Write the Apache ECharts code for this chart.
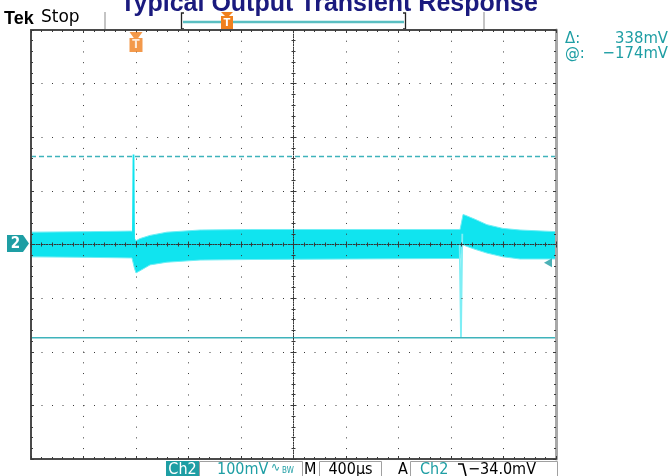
<!DOCTYPE html>
<html>
<head>
<meta charset="utf-8">
<script src="https://cdn.jsdelivr.net/npm/echarts@6/dist/echarts.min.js"></script>
<style>
  html, body { margin: 0; padding: 0; background: #fff; }
  #scope { width: 670px; height: 476px; }
</style>
</head>
<body>
<div id="scope"></div>
<script>
// ---- Acquisition settings ----
const timeRange = [-800, 3200];      // µs, 400 µs/div, trigger 2 div from left
const timeStep = 400;
const levelRange = [-400, 400];      // mV, 100 mV/div, Ch2 ground at centre
const levelStep = 100;

// ---- Ch2 trace: envelope of the noise band (µs, mV) ----
const bandTime   = [-800, -350, -46, -31, -11,   0,  30, 107, 236, 488, 869, 1630, 2461, 2469, 2492, 2514, 2583, 2674, 2796, 2926, 3200];
const bandTop    = [  23,   24,  25,  25,  11,   7,  11,  17,  23,  27,  28,   28,   28,   28,   56,   54,   47,   37,   30,   27,   24];
const bandBottom = [ -23,  -24, -25, -25, -45, -53, -49, -38, -33, -29, -28,  -27,  -26,  -26,    0,   -3,   -9,  -16,  -23,  -27,  -27];

// ---- Load-step spikes ----
const spike1Time  = [-24, -19, -14];
const spike1Level = [0, 168, -30];
const spike2Time  = [2466, 2476, 2486];
const spike2Level = [0, -174, 20];

// ---- Cursors and trigger ----
const cursorDelta = 338;             // mV
const cursorAt = -174;               // mV
const triggerLevel = -34;            // mV
const triggerTime = 0;               // µs

const TRACE = '#10e4ef';
const TEAL = '#1e9ea4';
const CURSOR = '#3fb3bb';
const ORANGE = '#f0801e';
const FONT = '"DejaVu Sans Condensed", "Liberation Sans Narrow", "DejaVu Sans", sans-serif';

const pairs = (xs, ys) => xs.map((x, i) => [x, ys[i]]);
const bandRows = bandTime.map((t, i) => [t, bandTop[i], bandBottom[i]]);
const upperCursor = cursorAt + cursorDelta;

const chart = echarts.init(document.getElementById('scope'), null, { renderer: 'canvas' });

const gridRect = { left: 31, top: 30, width: 525, height: 429 };

// graticule axes (grid 1, measured in divisions)
const dotX = [1, 9.5];   // dot pitch along horizontal lines
const dotY = [1, 9.72];  // dot pitch along vertical lines
const tickStyle = { color: '#3a3a3a', width: 1 };
function gx(extra) {
  return Object.assign({
    type: 'value', gridIndex: 1, min: -5, max: 5, interval: 1, z: 10,
    axisLabel: { show: false }, splitLine: { show: false },
    axisTick: { show: true, inside: true, length: 3, lineStyle: tickStyle },
    minorTick: { show: true, splitNumber: 5, length: 2, lineStyle: tickStyle }
  }, extra);
}
function gy(extra) {
  return Object.assign({
    type: 'value', gridIndex: 1, min: -4, max: 4, interval: 1, z: 10,
    axisLabel: { show: false }, splitLine: { show: false },
    axisTick: { show: true, inside: true, length: 3, lineStyle: tickStyle },
    minorTick: { show: true, splitNumber: 5, length: 2, lineStyle: tickStyle }
  }, extra);
}
const centreLine = { onZero: true, lineStyle: { color: '#333', width: 1, type: [1, 1.6] } };

const option = {
  animation: false,
  backgroundColor: '#ffffff',
  grid: [
    Object.assign({ show: false }, gridRect),
    Object.assign({ show: false }, gridRect)
  ],
  xAxis: [
    { type: 'value', gridIndex: 0, min: timeRange[0], max: timeRange[1], interval: timeStep, show: false },
    gx({ position: 'bottom', axisLine: { onZero: false, lineStyle: { color: '#4a4a4a', width: 2 } },
         splitLine: { show: true, lineStyle: { color: '#3a3a3a', width: 1, type: dotY } } }),
    gx({ position: 'top', axisLine: { onZero: false, lineStyle: { color: '#4a4a4a', width: 2 } } }),
    gx({ position: 'bottom', axisLine: centreLine }),
    gx({ position: 'top', axisLine: centreLine })
  ],
  yAxis: [
    { type: 'value', gridIndex: 0, min: levelRange[0], max: levelRange[1], interval: levelStep, show: false },
    gy({ position: 'left', axisLine: { onZero: false, lineStyle: { color: '#4a4a4a', width: 2 } },
         splitLine: { show: true, lineStyle: { color: '#3a3a3a', width: 1, type: dotX } } }),
    gy({ position: 'right', axisLine: { onZero: false, lineStyle: { color: '#a8a8a8', width: 3 } } }),
    gy({ position: 'left', axisLine: centreLine }),
    gy({ position: 'right', axisLine: centreLine })
  ],
  series: [
    {
      // noise band of Ch2 drawn as one polygon between its upper and lower envelope
      name: 'Ch2', type: 'custom', xAxisIndex: 0, yAxisIndex: 0, silent: true, z: 2,
      data: bandRows,
      encode: { x: 0, y: [1, 2] },
      renderItem: function (params, api) {
        if (params.dataIndex !== 0) return null;
        const upper = bandRows.map(r => api.coord([r[0], r[1]]));
        const lower = bandRows.map(r => api.coord([r[0], r[2]])).reverse();
        return { type: 'polygon', shape: { points: upper.concat(lower) },
                 style: { fill: TRACE, stroke: '#6feef5', lineWidth: 1 } };
      }
    },
    {
      name: 'spike-1', type: 'line', xAxisIndex: 0, yAxisIndex: 0, symbol: 'none', silent: true, z: 3,
      lineStyle: { color: TRACE, width: 1.8 },
      data: pairs(spike1Time, spike1Level)
    },
    {
      name: 'spike-2', type: 'line', xAxisIndex: 0, yAxisIndex: 0, symbol: 'none', silent: true, z: 3,
      lineStyle: { color: '#7eeef5', width: 1.8 },
      data: pairs(spike2Time, spike2Level)
    },
    {
      name: 'cursor-upper', type: 'line', xAxisIndex: 0, yAxisIndex: 0, symbol: 'none', silent: true, z: 4,
      lineStyle: { color: CURSOR, width: 1.5, type: [5, 3] },
      data: pairs(timeRange, [upperCursor, upperCursor])
    },
    {
      name: 'cursor-at', type: 'line', xAxisIndex: 0, yAxisIndex: 0, symbol: 'none', silent: true, z: 4,
      lineStyle: { color: CURSOR, width: 1.5 },
      data: pairs(timeRange, [cursorAt, cursorAt])
    },
    {
      name: 'trigger-level', type: 'scatter', xAxisIndex: 0, yAxisIndex: 0, silent: true, z: 12,
      symbol: 'triangle', symbolRotate: 90, symbolSize: [9, 8], symbolOffset: [-8, 0],
      itemStyle: { color: TEAL },
      data: [[timeRange[1], triggerLevel]]
    },
    {
      name: 'trigger-pos', type: 'scatter', xAxisIndex: 0, yAxisIndex: 0, silent: true, z: 12,
      symbol: 'path://M0,0 L12,0 L8,5 L12,5 L12,17 L0,17 L0,5 L4,5 Z',
      symbolSize: [13, 20], symbolOffset: [0, 12],
      itemStyle: { color: ORANGE },
      label: { show: true, position: 'inside', offset: [0, 3], formatter: 'T', color: '#fff',
               fontFamily: FONT, fontWeight: 'bold', fontSize: 12 },
      data: [[triggerTime, levelRange[1]]]
    }
  ],
  graphic: [
    // title
    { type: 'text', x: 329, y: 17, style: { text: 'Typical Output Transient Response', fill: '#1a1a7e',
      font: 'bold 25px "Liberation Sans", Arial, sans-serif', textAlign: 'center', textVerticalAlign: 'bottom' } },
    // status bar
    { type: 'text', x: 4, y: 19, style: { text: 'Tek', fill: '#000', font: 'bold 18px "Liberation Sans", Arial, sans-serif', textVerticalAlign: 'middle' } },
    { type: 'text', x: 41, y: 18, style: { text: 'Stop', fill: '#000', font: '17px "DejaVu Sans", sans-serif', textVerticalAlign: 'middle' } },
    { type: 'line', shape: { x1: 105, y1: 12, x2: 105, y2: 30 }, style: { stroke: '#b0b0b0', lineWidth: 1.5 } },
    { type: 'line', shape: { x1: 484, y1: 12, x2: 484, y2: 30 }, style: { stroke: '#b0b0b0', lineWidth: 1.5 } },
    { type: 'polyline', shape: { points: [[184, 13], [181.5, 13], [181.5, 29], [184, 29]] }, style: { stroke: '#222', lineWidth: 1.3, fill: null } },
    { type: 'polyline', shape: { points: [[403, 13], [405.5, 13], [405.5, 29], [403, 29]] }, style: { stroke: '#222', lineWidth: 1.3, fill: null } },
    { type: 'line', shape: { x1: 183, y1: 22, x2: 404, y2: 22 }, style: { stroke: '#5bbfc2', lineWidth: 2.5 } },
    { type: 'polygon', shape: { points: [[221, 12], [233, 12], [229, 16], [233, 16], [233, 29], [221, 29], [221, 16], [225, 16]] }, style: { fill: ORANGE } },
    { type: 'text', x: 227, y: 23, style: { text: 'T', fill: '#fff', font: 'bold 11px ' + FONT, textAlign: 'center', textVerticalAlign: 'middle' } },
    // Ch2 ground marker
    { type: 'polygon', shape: { points: [[7, 235], [23, 235], [29, 243.5], [23, 252], [7, 252]] }, style: { fill: TEAL } },
    { type: 'text', x: 15.5, y: 244, style: { text: '2', fill: '#fff', font: 'bold 15px ' + FONT, textAlign: 'center', textVerticalAlign: 'middle' } },
    // cursor readout
    { type: 'text', x: 565, y: 39, style: { text: '\u0394:', fill: TEAL, font: '16.5px ' + FONT, textVerticalAlign: 'middle' } },
    { type: 'text', x: 668, y: 39, style: { text: cursorDelta + 'mV', fill: TEAL, font: '16.5px ' + FONT, textAlign: 'right', textVerticalAlign: 'middle' } },
    { type: 'text', x: 565, y: 54, style: { text: '@:', fill: TEAL, font: '16.5px ' + FONT, textVerticalAlign: 'middle' } },
    { type: 'text', x: 668, y: 54, style: { text: '\u2212' + Math.abs(cursorAt) + 'mV', fill: TEAL, font: '16.5px ' + FONT, textAlign: 'right', textVerticalAlign: 'middle' } },
    // bottom settings bar
    { type: 'rect', shape: { x: 166, y: 461, width: 33, height: 17 }, style: { fill: TEAL } },
    { type: 'text', x: 182.5, y: 469.5, style: { text: 'Ch2', fill: '#fff', font: '16px ' + FONT, textAlign: 'center', textVerticalAlign: 'middle' } },
    { type: 'rect', shape: { x: 199.5, y: 461.5, width: 103, height: 17 }, style: { fill: null, stroke: '#a0a0a0', lineWidth: 1 } },
    { type: 'text', x: 217, y: 469.5, style: { text: '100mV', fill: TEAL, font: '16px ' + FONT, textVerticalAlign: 'middle' } },
    { type: 'text', x: 271, y: 468, style: { text: '\u223f', fill: TEAL, font: '12px ' + FONT, textVerticalAlign: 'middle' } },
    { type: 'text', x: 282, y: 471, style: { text: 'BW', fill: TEAL, font: '8px ' + FONT, textVerticalAlign: 'middle' } },
    { type: 'text', x: 304, y: 469.5, style: { text: 'M', fill: '#000', font: '16px ' + FONT, textVerticalAlign: 'middle' } },
    { type: 'rect', shape: { x: 319.5, y: 461.5, width: 62, height: 17 }, style: { fill: null, stroke: '#a0a0a0', lineWidth: 1 } },
    { type: 'text', x: 350.5, y: 469.5, style: { text: '400\u00b5s', fill: '#000', font: '16px ' + FONT, textAlign: 'center', textVerticalAlign: 'middle' } },
    { type: 'text', x: 398, y: 469.5, style: { text: 'A', fill: '#000', font: '16px ' + FONT, textVerticalAlign: 'middle' } },
    { type: 'rect', shape: { x: 410.5, y: 461.5, width: 147, height: 17 }, style: { fill: null, stroke: '#a0a0a0', lineWidth: 1 } },
    { type: 'text', x: 420, y: 469.5, style: { text: 'Ch2', fill: TEAL, font: '16px ' + FONT, textVerticalAlign: 'middle' } },
    { type: 'polyline', shape: { points: [[458, 464], [463, 464], [466, 476]] }, style: { stroke: '#000', lineWidth: 1.6, fill: null } },
    { type: 'text', x: 468, y: 469.5, style: { text: '\u2212' + Math.abs(triggerLevel).toFixed(1) + 'mV', fill: '#000', font: '16px ' + FONT, textVerticalAlign: 'middle' } }
  ]
};

chart.setOption(option);
</script>
</body>
</html>
